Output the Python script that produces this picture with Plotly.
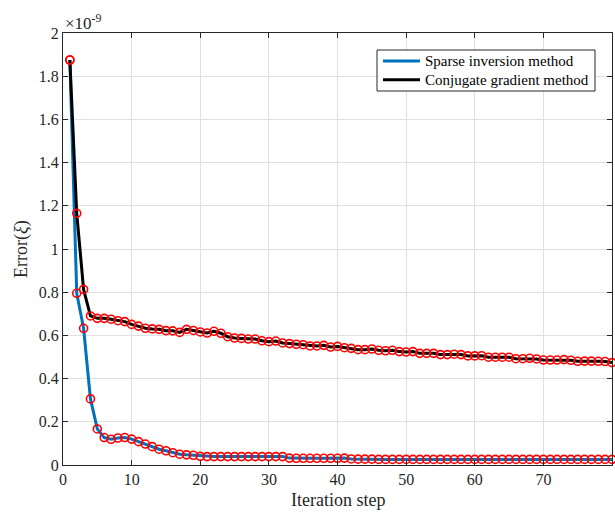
import plotly.graph_objects as go

# Values in units of 1e-9
iterations = list(range(1, 81))

sparse_inversion = [
    1.875, 0.795, 0.633, 0.306, 0.167, 0.127, 0.119, 0.125, 0.127, 0.120,
    0.108, 0.097, 0.085, 0.073, 0.066, 0.057, 0.050, 0.047, 0.045, 0.040,
    0.039, 0.039, 0.039, 0.039, 0.039, 0.039, 0.039, 0.039, 0.039, 0.039,
    0.039, 0.039, 0.032, 0.031, 0.031, 0.031, 0.031, 0.031, 0.031, 0.031,
    0.032, 0.028, 0.027, 0.027, 0.027, 0.026, 0.026, 0.026, 0.026, 0.026,
    0.026, 0.026, 0.026, 0.026, 0.026, 0.026, 0.026, 0.026, 0.026, 0.026,
    0.026, 0.026, 0.026, 0.026, 0.026, 0.026, 0.026, 0.026, 0.026, 0.026,
    0.026, 0.026, 0.026, 0.026, 0.026, 0.026, 0.026, 0.026, 0.026, 0.026,
]

conjugate_gradient = [
    1.875, 1.165, 0.813, 0.690, 0.679, 0.679, 0.675, 0.668, 0.664, 0.651,
    0.643, 0.633, 0.630, 0.628, 0.622, 0.621, 0.614, 0.628, 0.623, 0.616,
    0.611, 0.619, 0.610, 0.594, 0.588, 0.586, 0.583, 0.583, 0.575, 0.571,
    0.574, 0.565, 0.562, 0.559, 0.557, 0.551, 0.551, 0.554, 0.546, 0.549,
    0.543, 0.540, 0.534, 0.534, 0.537, 0.531, 0.529, 0.531, 0.525, 0.523,
    0.525, 0.517, 0.517, 0.517, 0.511, 0.511, 0.513, 0.511, 0.505, 0.505,
    0.506, 0.499, 0.499, 0.499, 0.499, 0.492, 0.492, 0.494, 0.491, 0.486,
    0.486, 0.486, 0.488, 0.485, 0.480, 0.481, 0.481, 0.480, 0.479, 0.474,
]

series_names = ["Sparse inversion method", "Conjugate gradient method"]
series_colors = ["#0072BD", "black"]

x_ticks = [0, 10, 20, 30, 40, 50, 60, 70, 80]
y_ticks = [0, 0.2, 0.4, 0.6, 0.8, 1.0, 1.2, 1.4, 1.6, 1.8, 2.0]
y_tick_labels = ["0", "0.2", "0.4", "0.6", "0.8", "1", "1.2", "1.4", "1.6", "1.8", "2"]

FONT = "Liberation Serif, Times New Roman, serif"
TXT = "#262626"

W, H = 615, 512
ML, MR, MT, MB = 63, 3, 33, 47
PW, PH = W - ML - MR, H - MT - MB


def px_x(p):
    return (p - ML) / PW


def px_y(p):
    return (H - MB - p) / PH


fig = go.Figure()
for name, color, series in zip(series_names, series_colors, (sparse_inversion, conjugate_gradient)):
    fig.add_trace(go.Scatter(x=iterations, y=series, mode="lines", name=name,
                             showlegend=False, line=dict(color=color, width=3)))
for series in (sparse_inversion, conjugate_gradient):
    fig.add_trace(go.Scatter(x=iterations, y=series, mode="markers", showlegend=False,
                             cliponaxis=False,
                             marker=dict(symbol="circle-open", size=8, color="red",
                                         line=dict(color="red", width=1.6))))

axis_common = dict(
    showline=True, linecolor=TXT, linewidth=1, mirror="ticks",
    ticks="inside", ticklen=5, tickcolor=TXT,
    showgrid=True, gridcolor="#e0e0e0", gridwidth=1, zeroline=False,
    tickfont=dict(family=FONT, size=16, color=TXT),
    automargin=False,
)

fig.update_xaxes(range=[0, 80], tickvals=x_ticks, **axis_common)
fig.update_yaxes(range=[0, 2], tickvals=y_ticks, ticktext=y_tick_labels, **axis_common)

fig.add_annotation(xref="paper", yref="paper", x=0, y=1, xanchor="left", yanchor="bottom",
                   text="×10<sup>-9</sup>", showarrow=False, yshift=-2,
                   font=dict(family=FONT, size=17, color=TXT))
fig.add_annotation(xref="paper", yref="paper", x=0.5, y=0, xanchor="center", yanchor="middle",
                   text="Iteration step", showarrow=False, yshift=-35,
                   font=dict(family=FONT, size=18, color=TXT))
fig.add_annotation(xref="paper", yref="paper", x=0, y=0.5, xanchor="center", yanchor="middle",
                   text="Error(<i>ξ</i>)", showarrow=False, xshift=-42, textangle=-90,
                   font=dict(family=FONT, size=18, color=TXT))

# Legend box (MATLAB style)
fig.add_shape(type="rect", xref="paper", yref="paper",
              x0=px_x(377), x1=px_x(595), y0=px_y(91), y1=px_y(50),
              line=dict(color=TXT, width=1), fillcolor="white", layer="above")
for i, (name, color) in enumerate(zip(series_names, series_colors)):
    yy = px_y(61 + i * 18.7)
    fig.add_shape(type="line", xref="paper", yref="paper",
                  x0=px_x(383), x1=px_x(420), y0=yy, y1=yy,
                  line=dict(color=color, width=3), layer="above")
    fig.add_annotation(xref="paper", yref="paper", x=px_x(423), y=yy,
                       xanchor="left", yanchor="middle", text=name, showarrow=False,
                       font=dict(family=FONT, size=15, color="black"))

fig.update_layout(
    width=W, height=H,
    margin=dict(l=ML, r=MR, t=MT, b=MB),
    paper_bgcolor="white", plot_bgcolor="white",
    showlegend=False,
)

fig.write_html("out.html",
               config={"displayModeBar": False},
               post_script="document.body.style.margin='0';document.body.style.overflow='hidden';")
